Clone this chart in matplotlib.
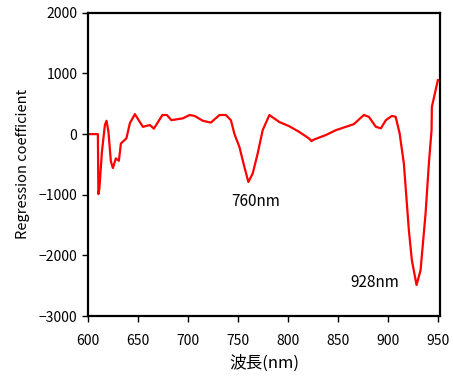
import numpy as np
import matplotlib
matplotlib.use("Agg")
import matplotlib.pyplot as plt

plt.rcParams['font.family'] = ['Noto Sans CJK JP', 'DejaVu Sans']

# wavelength (nm) and regression coefficient
wavelength = [600, 610, 610.5, 611.5, 614, 617, 618.6, 620.5, 623, 625, 628, 631, 633, 638.5,
              642, 647, 655, 662, 666, 674.5, 679, 683.5, 695, 701.7, 706.7, 715, 723,
              731.6, 738, 743, 746.6, 751.5, 756.5, 760.5, 764.8, 769.8, 774.8, 781.5,
              791.4, 801.4, 811, 821, 823.6, 826, 838, 848, 858, 866, 876, 881, 888,
              893, 898, 904, 907.8, 911.8, 912.7, 916, 921, 924, 928.7, 932.7, 937.7,
              941, 943.7, 944, 947, 950]
coef = [0, 0, -990, -900, -300, 150, 220, 50, -450, -560, -400, -440, -155, -70,
        180, 330, 120, 150, 90, 315, 315, 230, 260, 315, 300, 220, 190,
        315, 315, 230, 0, -210, -540, -790, -650, -320, 65, 315,
        200, 130, 40, -70, -115, -90, -15, 65, 120, 165, 315, 285, 120,
        95, 230, 300, 285, 10, -100, -485, -1585, -2080, -2490, -2245, -1310,
        -485, 65, 450, 670, 890]

# peak labels: text, x, y
labels = ["760nm", "928nm"]
label_x = [768, 887]
label_y = [-1110, -2450]

fig = plt.figure(figsize=(4.53, 3.78), dpi=100)
ax = fig.add_axes([0.194, 0.164, 0.777, 0.802])

ax.plot(wavelength, coef, color='#ff0000', lw=1.6)

for label, tx, ty in zip(labels, label_x, label_y):
    ax.text(tx, ty, label, fontsize=11, ha='center', va='center')

ax.set_xlim(600, 952)
ax.set_ylim(-3000, 2000)
ax.set_xticks(np.arange(600, 951, 50))
ax.set_yticks(np.arange(-3000, 2001, 1000))
ax.tick_params(direction='out', length=4, width=1, labelsize=10)
ax.tick_params(axis='x', pad=9)
for s in ax.spines.values():
    s.set_linewidth(1.6)

ax.set_xlabel("波長(nm)", fontsize=12, labelpad=5)
ax.set_ylabel("Regression coefficient", fontsize=10.5, labelpad=6)

fig.savefig("out.png", dpi=100)
